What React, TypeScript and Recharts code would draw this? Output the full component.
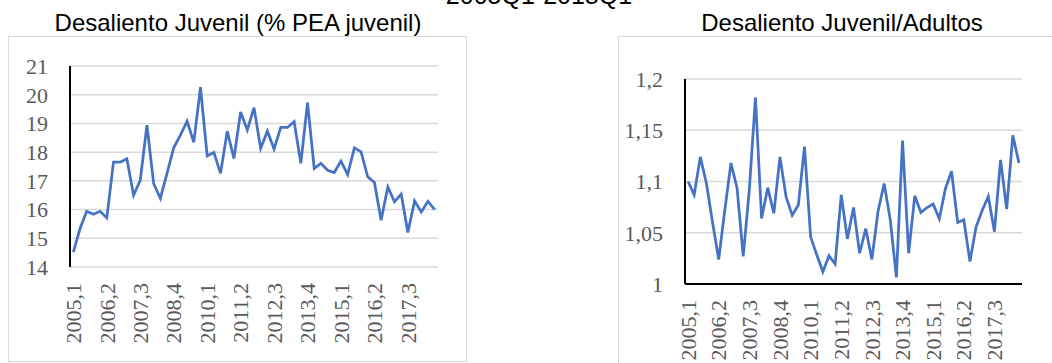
import { LineChart, Line, XAxis, YAxis, CartesianGrid } from 'recharts'

// quarters 2005,1 .. 2018,3
const quarters = [
  '2005,1', '2005,2', '2005,3', '2005,4', '2006,1', '2006,2', '2006,3', '2006,4',
  '2007,1', '2007,2', '2007,3', '2007,4', '2008,1', '2008,2', '2008,3', '2008,4',
  '2009,1', '2009,2', '2009,3', '2009,4', '2010,1', '2010,2', '2010,3', '2010,4',
  '2011,1', '2011,2', '2011,3', '2011,4', '2012,1', '2012,2', '2012,3', '2012,4',
  '2013,1', '2013,2', '2013,3', '2013,4', '2014,1', '2014,2', '2014,3', '2014,4',
  '2015,1', '2015,2', '2015,3', '2015,4', '2016,1', '2016,2', '2016,3', '2016,4',
  '2017,1', '2017,2', '2017,3', '2017,4', '2018,1', '2018,2', '2018,3',
]

const desalientoJuvenil = [
  14.52, 15.34, 15.94, 15.84, 15.94, 15.71, 17.65, 17.65, 17.77, 16.5,
  17.02, 18.94, 16.91, 16.39, 17.26, 18.15, 18.59, 19.08, 18.34, 20.26,
  17.87, 17.99, 17.26, 18.73, 17.78, 19.4, 18.77, 19.55, 18.13, 18.73,
  18.11, 18.86, 18.86, 19.06, 17.61, 19.72, 17.43, 17.61, 17.37, 17.29,
  17.69, 17.22, 18.15, 18.01, 17.14, 16.94, 15.63, 16.79, 16.27, 16.54,
  15.2, 16.3, 15.92, 16.29, 16.0,
]

const ratioJuvenilAdultos = [
  1.1, 1.087, 1.124, 1.098, 1.06, 1.024, 1.072, 1.118, 1.0935, 1.027,
  1.092, 1.182, 1.064, 1.094, 1.069, 1.124, 1.085, 1.067, 1.077, 1.134,
  1.046, 1.0285, 1.012, 1.0276, 1.0195, 1.087, 1.044, 1.0746, 1.03, 1.054,
  1.024, 1.0707, 1.098, 1.0626, 1.0065, 1.14, 1.03, 1.086, 1.0698, 1.0746,
  1.078, 1.0636, 1.093, 1.11, 1.06, 1.0626, 1.022, 1.0555, 1.0717, 1.0853,
  1.051, 1.121, 1.073, 1.145, 1.118,
]

const leftTicks = [14, 15, 16, 17, 18, 19, 20, 21]
const rightTicks = [1, 1.05, 1.1, 1.15, 1.2]

const data = quarters.map((q, i) => ({
  q,
  juvenil: desalientoJuvenil[i],
  ratio: ratioJuvenilAdultos[i],
}))

const serif = "'Liberation Serif', 'Times New Roman', serif"
const sans = "'Liberation Sans', Arial, sans-serif"
const tickFill = '#595959'
const gridColor = '#d9d9d9'
const lineColor = '#4472C4'

const XTick = (props: any) => {
  const { x, y, payload } = props
  return (
    <g transform={`translate(${x},${y})`}>
      <text transform="rotate(-90)" x={-8} y={0} dy="0.35em" textAnchor="end" fill={tickFill} fontSize={22} style={{ fontFamily: serif }}>
        {payload.value}
      </text>
    </g>
  )
}

const YTick = (props: any) => {
  const { x, y, payload, fmt } = props
  return (
    <text x={x} y={y} dy="0.355em" textAnchor="end" fill={tickFill} fontSize={22} style={{ fontFamily: serif }}>
      {fmt ? fmt(payload.value) : payload.value}
    </text>
  )
}

const comma = (v: number) => String(v).replace('.', ',')

const title = (text: string, center: number, top: number, size = 24) => (
  <div
    style={{
      position: 'absolute',
      left: center - 300,
      top,
      width: 600,
      textAlign: 'center',
      fontFamily: sans,
      fontSize: size,
      lineHeight: `${size}px`,
      color: '#000',
      whiteSpace: 'nowrap',
    }}
  >
    {text}
  </div>
)

export default function App() {
  return (
    <div style={{ position: 'absolute', left: 0, top: 0, width: 1052, height: 363, overflow: 'hidden', background: '#fff' }}>
      {title('2005Q1-2018Q1', 539, -17, 25)}

      <div style={{ position: 'absolute', left: 8, top: 36, width: 459, height: 326, border: `1px solid ${gridColor}`, boxSizing: 'border-box' }} />
      {title('Desaliento Juvenil (% PEA juvenil)', 238, 11)}
      <div style={{ position: 'absolute', left: 8, top: 36 }}>
        <LineChart width={459} height={327} data={data} margin={{ top: 30, right: 29, bottom: 0, left: 0 }}>
          <CartesianGrid vertical={false} stroke={gridColor} strokeWidth={1.5} />
          <XAxis
            dataKey="q"
            interval={4}
            height={96}
            axisLine={false}
            tickLine={false}
            padding={{ left: 3.35, right: 3.35 }}
            tick={<XTick />}
          />
          <YAxis
            width={62}
            domain={[14, 21]}
            ticks={leftTicks}
            interval={0}
            axisLine={{ stroke: '#000', strokeWidth: 2 }}
            tickLine={false}
            tickMargin={16}
            tick={<YTick />}
          />
          <Line type="linear" dataKey="juvenil" stroke={lineColor} strokeWidth={2.75} dot={false} isAnimationActive={false} />
        </LineChart>
      </div>

      <div style={{ position: 'absolute', left: 618, top: 36, width: 500, height: 400, border: `1px solid ${gridColor}`, boxSizing: 'border-box' }} />
      {title('Desaliento Juvenil/Adultos', 842, 11)}
      <div style={{ position: 'absolute', left: 619, top: 36 }}>
        <LineChart width={433} height={327} data={data} margin={{ top: 43, right: 30, bottom: 0, left: 0 }}>
          <CartesianGrid vertical={false} stroke={gridColor} strokeWidth={1.5} />
          <XAxis
            dataKey="q"
            interval={4}
            height={79}
            axisLine={{ stroke: '#000', strokeWidth: 2 }}
            tickLine={false}
            padding={{ left: 3.06, right: 3.06 }}
            tick={<XTick />}
          />
          <YAxis
            width={66}
            domain={[1, 1.2]}
            ticks={rightTicks}
            interval={0}
            axisLine={{ stroke: '#000', strokeWidth: 2 }}
            tickLine={false}
            tickMargin={16}
            tick={<YTick fmt={comma} />}
          />
          <Line type="linear" dataKey="ratio" stroke={lineColor} strokeWidth={2.75} dot={false} isAnimationActive={false} />
        </LineChart>
      </div>
    </div>
  )
}
